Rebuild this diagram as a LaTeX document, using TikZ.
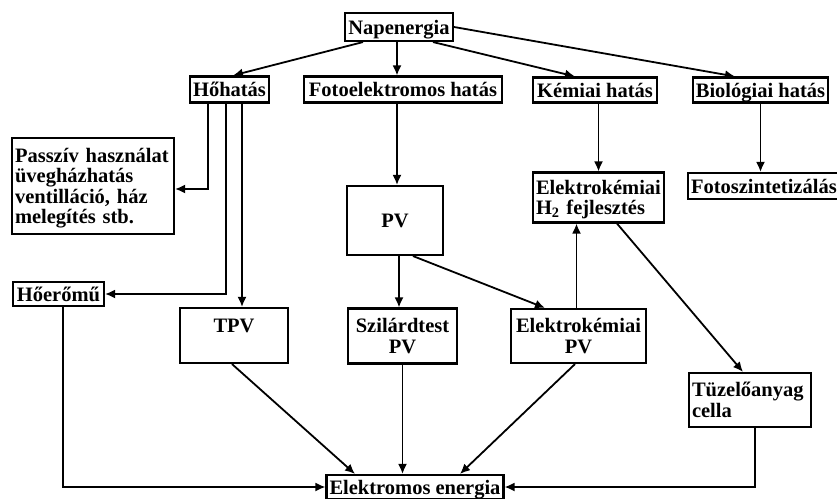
\documentclass[tikz,border=0pt]{standalone}
\usepackage{fontspec}
\setmainfont{Liberation Serif}
\usetikzlibrary{arrows.meta}
\tikzset{
  box/.style={draw, line width=2.1pt, inner xsep=3pt, inner ysep=0pt,
    font={\fontsize{20.5}{20.5}\selectfont\bfseries}, text height=14pt, text depth=0pt},
  lefttext/.style={align=left},
  arr/.style={-{Latex[length=10pt,width=9pt]}, line width=1.8pt}
}
\begin{document}
\begin{tikzpicture}[x=1pt,y=-1pt]
\useasboundingbox (0,0) rectangle (837,498);
\fill[white] (0,0) rectangle (837,498);
\clip (0,0) rectangle (837,498);
% nodes
\node[box, minimum width=108pt, minimum height=28pt] (nap) at (399,27) {Napenergia};
\node[box, minimum width=79pt, minimum height=26pt] (hoh) at (229.5,89.5) {Hőhatás};
\node[box, minimum width=198pt, minimum height=26pt] (foto) at (403,89.5) {Fotoelektromos hatás};
\node[box, minimum width=124pt, minimum height=25pt] (kem) at (595,90) {Kémiai hatás};
\node[box, minimum width=135pt, minimum height=25pt] (bio) at (760.5,90) {Biológiai hatás};
\node[box, lefttext, text width=156pt, minimum height=96pt, text depth=61.5pt] (pas) at (93,186)
  {Passzív használat\\üvegházhatás\\ventilláció, ház\\melegítés stb.};
\node[box, lefttext, text width=125pt, minimum height=50pt, text depth=20.5pt] (h2) at (598.5,197.5)
  {Elektrokémiai\\H\textsubscript{2} fejlesztés};
\node[box, lefttext, text width=154pt, minimum height=26pt] (fot) at (768,186) {Fotoszintetizálás};
\node[box, minimum width=96pt, minimum height=69pt] (pv) at (395,220.5) {PV};
\node[box, minimum width=91pt, minimum height=24pt] (hoe) at (58.5,294) {Hőerőmű};
\node[box, minimum width=108pt, minimum height=55pt, text depth=20.5pt] (tpv) at (234,335.5) {TPV};
\node[box, align=center, text width=103pt, minimum height=55pt, text depth=20.5pt] (szil) at (402.5,336) {Szilárdtest\\PV};
\node[box, align=center, text width=129pt, minimum height=54pt, text depth=20.5pt] (epv) at (578.5,336) {Elektrokémiai\\PV};
\node[box, lefttext, text width=116pt, minimum height=54pt, text depth=20.5pt] (tuz) at (750,400) {Tüzelőanyag\\cella};
\node[box, minimum width=176pt, minimum height=24pt] (ele) at (415,487) {Elektromos energia};
% connectors
\draw[arr] ([xshift=-36pt]nap.south) -- ([xshift=3.5pt]hoh.north);
\draw[arr] ([xshift=-2pt]nap.south) -- ([xshift=-2pt]nap.south |- foto.north);
\draw[arr] ([xshift=34pt]nap.south) -- ([xshift=-20pt]kem.north);
\draw[arr] (nap.east) -- ([xshift=-25.5pt]bio.north);
\draw[arr] ([xshift=-6pt]foto.south) -- ([xshift=-6pt]foto.south |- pv.north);
\draw[arr] ([xshift=-21.5pt]hoh.south) |- ([yshift=-3pt]pas.east);
\draw[arr] ([xshift=-3.5pt]hoh.south) |- (hoe.east);
\draw[arr] ([xshift=12.5pt]hoh.south) -- ([xshift=12.5pt]hoh.south |- tpv.north);
\draw[arr] (kem.south -| h2.north) -- (h2.north);
\draw[arr] (bio.south) -- (bio.south |- fot.north);
\draw[arr] ([xshift=4pt]pv.south) -- ([xshift=4pt]pv.south |- szil.north);
\draw[arr] ([xshift=18pt]pv.south) -- ([xshift=-33.5pt]epv.north);
\draw[arr] ([xshift=-2pt]epv.north) -- ([xshift=-2pt]epv.north |- h2.south);
\draw[arr] ([xshift=18.5pt]h2.south) -- ([xshift=-7pt]tuz.north);
\draw[arr] ([xshift=4.5pt]hoe.south) |- (ele.west);
\draw[arr] ([xshift=-2pt]tpv.south) -- ([xshift=-60pt]ele.north);
\draw[arr] (szil.south) -- (szil.south |- ele.north);
\draw[arr] ([xshift=-3.5pt]epv.south) -- ([xshift=45pt]ele.north);
\draw[arr] ([xshift=5pt]tuz.south) |- (ele.east);
\end{tikzpicture}
\end{document}
